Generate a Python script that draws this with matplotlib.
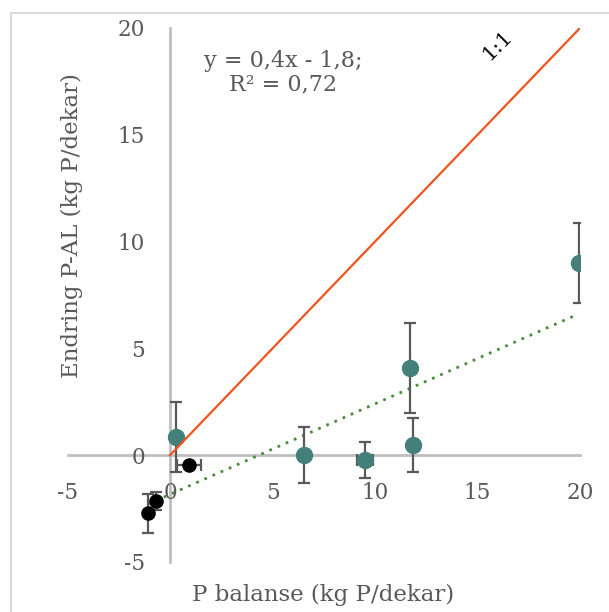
import matplotlib.pyplot as plt
from matplotlib.patches import Rectangle

# Données
teal_x = [0.3, 6.55, 9.5, 11.7, 11.85, 19.95]
teal_y = [0.85, 0.02, -0.23, 4.07, 0.47, 9.0]
teal_xerr = [0, 0, 0.4, 0, 0, 0]
teal_yerr = [1.65, 1.3, 0.85, 2.1, 1.27, 1.88]

black_x = [0.93, -0.7, -1.09]
black_y = [-0.47, -2.15, -2.72]
black_xerr = [0.57, 0, 0]
black_yerr = [0, 0.43, 0.92]

line11_x = [0, 20]
line11_y = [0, 20]
trend_x = [-1.1, 19.9]
trend_y = [-2.3, 6.6]

ticks = [-5, 0, 5, 10, 15, 20]

grey = '#595959'
axis_grey = '#BFBFBF'
teal = '#44807A'

plt.rcParams['font.family'] = ['DejaVu Serif']
plt.rcParams['axes.unicode_minus'] = False

fig = plt.figure(figsize=(6.09, 6.12), dpi=100)
ax = fig.add_axes([67.5/609, 50/612, (580-67.5)/609, (562-28)/612])

# bordure du graphique (Excel)
fig.add_artist(Rectangle((11/609, -0.1), 1.2, 1.1 - 13/612, transform=fig.transFigure,
                         fill=False, ec='#D9D9D9', lw=1.5, clip_on=False))

ax.set_xlim(-5, 20)
ax.set_ylim(-5, 20)
for s in ['top', 'right']:
    ax.spines[s].set_visible(False)
ax.spines['left'].set_position(('data', 0))
ax.spines['bottom'].set_position(('data', 0))
for s in ['left', 'bottom']:
    ax.spines[s].set_color(axis_grey)
    ax.spines[s].set_linewidth(2)
    ax.spines[s].set_zorder(1)

ax.set_xticks(ticks)
ax.set_yticks(ticks)
ax.tick_params(axis='both', length=0, labelsize=15.5, labelcolor=grey)
ax.tick_params(axis='y', pad=18)
ax.tick_params(axis='x', pad=19)

ax.plot(line11_x, line11_y, color='#F0541E', lw=1.6, zorder=4)
ax.plot(trend_x, trend_y, color='#4C8C3C', lw=2, linestyle=(0, (1, 2.2)), zorder=2)

ax.errorbar(teal_x, teal_y, xerr=teal_xerr, yerr=teal_yerr, fmt='none', ecolor=grey,
            elinewidth=1.6, capsize=4.3, capthick=1.6, zorder=2)
ax.errorbar(black_x, black_y, xerr=black_xerr, yerr=black_yerr, fmt='none', ecolor=grey,
            elinewidth=1.6, capsize=4.3, capthick=1.6, zorder=2)
ax.plot(teal_x, teal_y, 'o', color=teal, ms=11.5, mec=teal, zorder=3)
ax.plot(black_x, black_y, 'o', color='black', ms=9.5, zorder=3)

fig.text(283/609, 1 - 73/612, 'y = 0,4x - 1,8;\nR² = 0,72', ha='center', va='center',
         fontsize=16, color=grey, linespacing=1.1)
fig.text(497/609, 1 - 45/612, '1:1', ha='center', va='center', rotation=45,
         fontsize=15, color='black')

fig.text(72/609, 1 - 226/612, 'Endring P-AL (kg P/dekar)', rotation=90,
         ha='center', va='center', fontsize=16.5, color=grey)
fig.text(323/609, 1 - 595/612, 'P balanse (kg P/dekar)', ha='center', va='center',
         fontsize=16.5, color=grey)

fig.savefig('out.png', dpi=100)
